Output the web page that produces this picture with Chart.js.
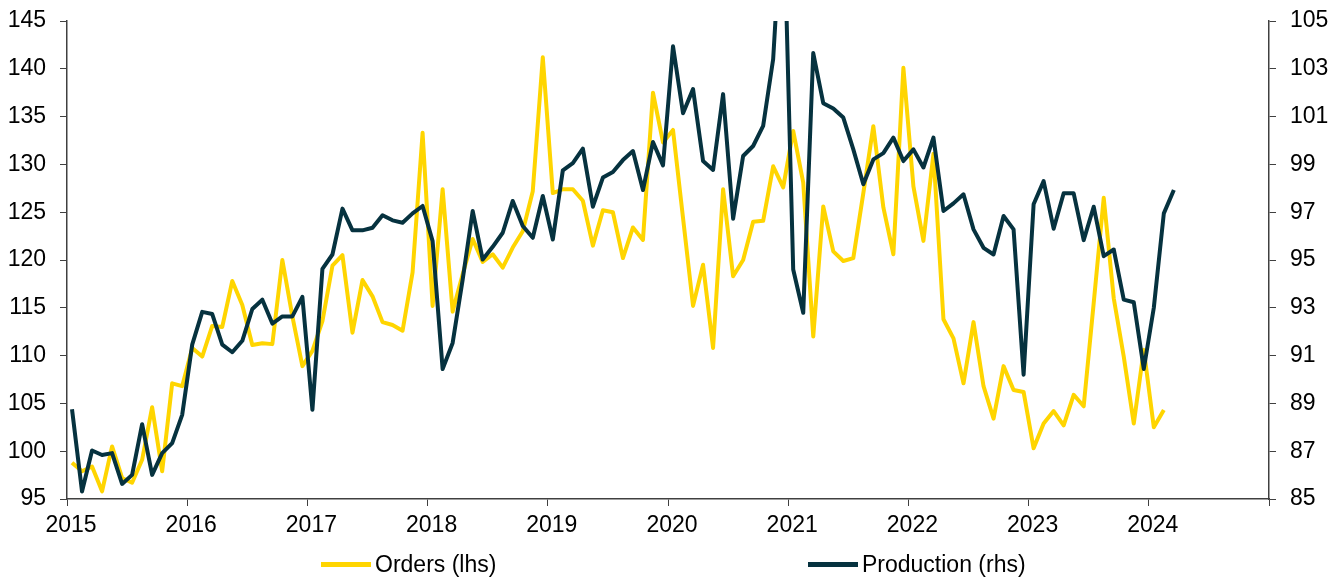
<!DOCTYPE html>
<html>
<head>
<meta charset="utf-8">
<script src="https://cdn.jsdelivr.net/npm/chart.js@4.4.1/dist/chart.umd.min.js"></script>
<style>
  body { margin: 0; background: #fff; }
  #wrap { position: relative; width: 1342px; height: 579px; }
  .legend { position: absolute; top: 553px; height: 23px; display: flex; align-items: center;
            font-family: 'Liberation Sans', Arial, sans-serif; font-size: 23px; line-height: 23px; color: #000; }
  .legend span.swatch { display: inline-block; width: 50px; height: 5px; margin-right: 4px; }
</style>
</head>
<body>
<div id="wrap">
  <canvas id="chart" width="1342" height="579"></canvas>
  <div class="legend" style="left:321px"><span class="swatch" style="background:#FFD500"></span>Orders (lhs)</div>
  <div class="legend" style="left:808px"><span class="swatch" style="background:#06323F"></span>Production (rhs)</div>
</div>
<script>
// monthly series, first value = Jan 2015
const startYear = 2015;
const yearLabels = ['2015', '2016', '2017', '2018', '2019', '2020', '2021', '2022', '2023', '2024', ''];

const orders = [
  98.8, 97.9, 98.4, 95.8, 100.5, 97.2, 96.7, 99.1, 104.6, 97.9, 107.1, 106.8,
  110.8, 109.9, 113.1, 113.0, 117.8, 115.3, 111.1, 111.3, 111.2, 120.0, 114.1, 108.9,
  110.5, 113.6, 119.4, 120.5, 112.4, 117.9, 116.2, 113.5, 113.2, 112.6, 118.7, 133.3,
  115.2, 127.4, 114.6, 118.5, 122.2, 119.8, 120.6, 119.2, 121.3, 123.0, 127.2, 141.2,
  127.0, 127.4, 127.4, 126.2, 121.5, 125.2, 125.0, 120.2, 123.4, 122.1, 137.5, 132.3,
  133.6, 124.4, 115.2, 119.5, 110.8, 127.4, 118.3, 120.0, 124.0, 124.1, 129.8, 127.6,
  133.5, 128.1, 112.0, 125.6, 120.9, 119.9, 120.2, 127.0, 134.0, 125.5, 120.6, 140.1,
  127.7, 122.0, 131.1, 113.8, 111.8, 107.1, 113.5, 106.8, 103.4, 108.9, 106.4, 106.2,
  100.3, 102.9, 104.2, 102.7, 105.9, 104.7, 115.5, 126.5, 116.0, 109.9, 102.9, 110.6,
  102.5, 104.3
];

const production = [
  88.76, 85.31, 87.03, 86.84, 86.92, 85.63, 86.01, 88.13, 86.01, 86.92, 87.34, 88.52,
  91.46, 92.83, 92.74, 91.46, 91.14, 91.62, 92.95, 93.34, 92.34, 92.64, 92.64, 93.46,
  88.73, 94.63, 95.23, 97.15, 96.24, 96.24, 96.35, 96.87, 96.66, 96.56, 96.95, 97.26,
  95.79, 90.44, 91.53, 94.18, 97.05, 95.02, 95.55, 96.14, 97.47, 96.42, 95.93, 97.68,
  95.86, 98.75, 99.05, 99.66, 97.23, 98.45, 98.68, 99.18, 99.56, 97.93, 99.94, 98.96,
  103.94, 101.14, 102.15, 99.14, 98.77, 101.94, 96.73, 99.35, 99.77, 100.61, 103.41, 110.5,
  94.6, 92.79, 103.66, 101.56, 101.34, 100.96, 99.63, 98.17, 99.21, 99.47, 100.12, 99.14,
  99.63, 98.87, 100.12, 97.05, 97.37, 97.75, 96.28, 95.51, 95.23, 96.84, 96.28, 90.20,
  97.33, 98.3, 96.31, 97.79, 97.79, 95.83, 97.23, 95.16, 95.44, 93.34, 93.23, 90.44,
  93.0, 96.95, 97.93
];

// each value sits in the middle of its month
const toPoints = arr => arr.map((v, i) => ({ x: i + 0.5, y: v }));

Chart.defaults.font.family = "'Liberation Sans', Arial, sans-serif";
Chart.defaults.font.size = 23;
Chart.defaults.color = '#000';

const axisColor = '#404040';

// fixed axis sizes so the plot area lines up with the original
function fixY(width) {
  return s => { s.width = width; s.paddingTop = 0; s.paddingBottom = 0; };
}

const ctx = document.getElementById('chart').getContext('2d');
const chart = new Chart(ctx, {
  type: 'line',
  data: {
    datasets: [
      {
        label: 'Orders (lhs)',
        data: toPoints(orders),
        yAxisID: 'yL',
        borderColor: '#FFD500',
        borderWidth: 4,
        pointRadius: 0,
        tension: 0,
        borderJoinStyle: 'round',
        order: 2
      },
      {
        label: 'Production (rhs)',
        data: toPoints(production),
        yAxisID: 'yR',
        borderColor: '#06323F',
        borderWidth: 4,
        pointRadius: 0,
        tension: 0,
        borderJoinStyle: 'round',
        order: 1
      }
    ]
  },
  options: {
    responsive: false,
    animation: false,
    layout: { padding: { top: 21, left: 0, right: 0, bottom: 0 } },
    plugins: {
      legend: { display: false },
      tooltip: { enabled: false }
    },
    scales: {
      x: {
        type: 'linear',
        min: 0,
        max: 120,
        afterFit: s => { s.height = 80; },
        ticks: {
          stepSize: 12,
          padding: 6,
          labelOffset: 4,
          maxRotation: 0,
          callback: v => yearLabels[v / 12]
        },
        grid: { drawOnChartArea: false, tickLength: 7, color: axisColor },
        border: { color: axisColor, width: 1.5 }
      },
      yL: {
        position: 'left',
        min: 95,
        max: 145,
        afterFit: fixY(67),
        ticks: { stepSize: 5, padding: 14 },
        grid: { drawOnChartArea: false, tickLength: 7, color: axisColor },
        border: { color: axisColor, width: 1.5 }
      },
      yR: {
        position: 'right',
        min: 85,
        max: 105,
        afterFit: fixY(73),
        ticks: { stepSize: 2, padding: 14 },
        grid: { drawOnChartArea: false, tickLength: 7, color: axisColor },
        border: { color: axisColor, width: 1.5 }
      }
    }
  }
});
</script>
</body>
</html>
